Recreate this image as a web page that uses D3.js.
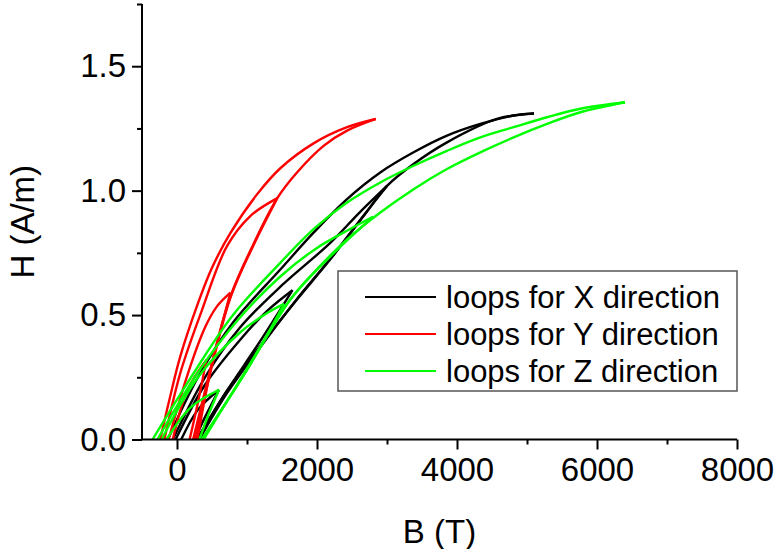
<!DOCTYPE html>
<html>
<head>
<meta charset="utf-8">
<script src="https://cdn.jsdelivr.net/npm/d3@7"></script>
<style>
  html, body { margin: 0; padding: 0; background: #fff; }
  svg { display: block; font-family: "Liberation Sans", Arial, sans-serif; }
</style>
</head>
<body>
<svg id="chart" width="774" height="549"></svg>
<script>
// ---------------- data (B in T, H in A/m) ----------------
const seriesNames = ["loops for X direction", "loops for Y direction", "loops for Z direction"];
const seriesColors = ["#000000", "#ff0000", "#00ff00"];

const xTicksMajor = [0, 2000, 4000, 6000, 8000];
const xTicksMinor = [1000, 3000, 5000, 7000];
const yTicksMajor = [0, 0.5, 1.0, 1.5];
const yTicksMinor = [0.25, 0.75, 1.25, 1.75];

// X direction loops: each loop = upper (ascending) branch + lower (returning) branch
const loopX1Upper = [[-130,0],[300,0.25],[800,0.47],[1476,0.683],[1951,0.831],[2429,0.966],[2904,1.073],[3380,1.154],[3857,1.221],[4333,1.268],[4809,1.302],[5100,1.31]];
const loopX1Lower = [[5100,1.31],[4571,1.288],[3857,1.194],[3380,1.107],[3000,1.019],[2666,0.898],[2190,0.724],[1714,0.5625],[1200,0.38],[700,0.19],[300,0]];
const loopX2Upper = [[-60,0],[400,0.25],[900,0.45],[1500,0.62],[2190,0.79],[2600,0.91],[3000,1.019]];
const loopX2Lower = [[3000,1.019],[2666,0.9],[2190,0.726],[1700,0.56],[1200,0.375],[700,0.18],[320,0]];
const loopX3Upper = [[-20,0],[400,0.22],[900,0.4],[1300,0.52],[1650,0.6]];
const loopX3Lower = [[1650,0.6],[1200,0.4],[700,0.19],[280,0]];
const loopX4Upper = [[60,0],[300,0.12],[600,0.2]];
const loopX4Lower = [[600,0.2],[400,0.09],[250,0]];

// Y direction loops
const loopY1Upper = [[-240,0],[-100,0.17],[47,0.334],[290,0.54],[500,0.69],[764,0.83],[1143,0.985],[1476,1.09],[1951,1.19],[2429,1.255],[2840,1.288]];
const loopY1Lower = [[2840,1.288],[2429,1.241],[2094,1.18],[1714,1.073],[1433,0.97],[1100,0.79],[770,0.58],[520,0.33],[290,0]];
const loopY2Upper = [[-180,0],[50,0.27],[357,0.52],[714,0.777],[1047,0.898],[1433,0.97]];
const loopY2Lower = [[1433,0.97],[1100,0.785],[770,0.575],[520,0.32],[260,0]];
const loopY3Upper = [[-120,0],[150,0.26],[400,0.45],[571,0.535],[763,0.59]];
const loopY3Lower = [[763,0.59],[520,0.33],[230,0]];
const loopY4Upper = [[-60,0],[150,0.2],[420,0.32]];
const loopY4Lower = [[420,0.32],[300,0.15],[180,0]];

// Z direction loops
const loopZ1Upper = [[-350,0],[200,0.25],[800,0.5],[1476,0.71],[1951,0.845],[2429,0.952],[2904,1.033],[3380,1.1],[3857,1.16],[4333,1.214],[4809,1.255],[5286,1.295],[5761,1.329],[6400,1.355]];
const loopZ1Lower = [[380,0],[1000,0.285],[1619,0.5625],[1951,0.67],[2429,0.804],[2904,0.912],[3380,1.006],[3857,1.087],[4333,1.154],[4809,1.214],[5286,1.268],[5761,1.315],[6400,1.355]];
const loopZ2Upper = [[-280,0],[300,0.27],[900,0.49],[1476,0.655],[2000,0.77],[2500,0.85],[2800,0.895]];
const loopZ2Lower = [[2800,0.895],[2429,0.8],[1951,0.668],[1600,0.555],[1000,0.28],[360,0]];
const loopZ3Upper = [[-220,0],[300,0.25],[900,0.43],[1300,0.51],[1530,0.545]];
const loopZ3Lower = [[1530,0.545],[1000,0.28],[350,0]];
const loopZ4Upper = [[-150,0],[200,0.13],[600,0.2]];
const loopZ4Lower = [[600,0.2],[450,0.1],[320,0]];

const loopsX = [loopX1Upper, loopX1Lower, loopX2Upper, loopX2Lower, loopX3Upper, loopX3Lower, loopX4Upper, loopX4Lower];
const loopsY = [loopY1Upper, loopY1Lower, loopY2Upper, loopY2Lower, loopY3Upper, loopY3Lower, loopY4Upper, loopY4Lower];
const loopsZ = [loopZ1Upper, loopZ1Lower, loopZ2Upper, loopZ2Lower, loopZ3Upper, loopZ3Lower, loopZ4Upper, loopZ4Lower];

// ---------------- drawing ----------------
const svg = d3.select("#chart");
const plot = { left: 142, right: 737, top: 4, bottom: 439.5 };

const x = d3.scaleLinear().domain([-500, 8000]).range([plot.left, plot.right]);
const y = d3.scaleLinear().domain([0, 1.75]).range([plot.bottom, plot.top]);

svg.append("defs").append("clipPath").attr("id", "clip")
  .append("rect")
  .attr("x", plot.left).attr("y", plot.top)
  .attr("width", plot.right - plot.left).attr("height", plot.bottom - plot.top);

const line = d3.line()
  .x(d => x(d[0])).y(d => y(d[1]))
  .curve(d3.curveCatmullRom.alpha(0.5));

const g = svg.append("g").attr("clip-path", "url(#clip)");
[loopsX, loopsY, loopsZ].forEach((loops, i) => {
  g.selectAll(null).data(loops).enter().append("path")
    .attr("d", line)
    .attr("fill", "none")
    .attr("stroke", seriesColors[i])
    .attr("stroke-width", 2.4)
    .attr("stroke-linejoin", "round");
});

// axes
const fontSize = 33;
const xAxis = svg.append("g").attr("transform", `translate(0,${plot.bottom})`)
  .call(d3.axisBottom(x).tickValues(xTicksMajor).tickSize(10).tickPadding(8).tickFormat(d3.format("d")));
const xMinor = svg.append("g").attr("transform", `translate(0,${plot.bottom})`)
  .call(d3.axisBottom(x).tickValues(xTicksMinor).tickSize(5).tickFormat(""));
const yAxis = svg.append("g").attr("transform", `translate(${plot.left},0)`)
  .call(d3.axisLeft(y).tickValues(yTicksMajor).tickSize(10).tickPadding(6).tickFormat(d3.format(".1f")));
const yMinor = svg.append("g").attr("transform", `translate(${plot.left},0)`)
  .call(d3.axisLeft(y).tickValues(yTicksMinor).tickSize(5).tickFormat(""));

[xAxis, xMinor, yAxis, yMinor].forEach(a => {
  a.select(".domain").attr("stroke", "#000").attr("stroke-width", 2);
  a.selectAll(".tick line").attr("stroke", "#000").attr("stroke-width", 2);
  a.selectAll(".tick text").attr("font-size", fontSize).attr("fill", "#000")
    .attr("font-family", "Liberation Sans, Arial, sans-serif");
});
xMinor.select(".domain").remove();
yMinor.select(".domain").remove();
xAxis.select(".domain").attr("d", `M${plot.left},0H${plot.right}`);
yAxis.select(".domain").attr("d", `M0,${plot.bottom}V${plot.top}`);

// axis titles
svg.append("text")
  .attr("x", (plot.left + plot.right) / 2)
  .attr("y", 543)
  .attr("text-anchor", "middle")
  .attr("font-size", fontSize)
  .text("B (T)");
svg.append("text")
  .attr("transform", `translate(34,${(plot.top + plot.bottom) / 2}) rotate(-90)`)
  .attr("text-anchor", "middle")
  .attr("font-size", fontSize)
  .text("H (A/m)");

// legend
const legend = svg.append("g");
legend.append("rect")
  .attr("x", 338).attr("y", 271).attr("width", 399).attr("height", 120)
  .attr("fill", "#fff").attr("stroke", "#555").attr("stroke-width", 1.5);
seriesNames.forEach((name, i) => {
  const cy = 297 + i * 37;
  legend.append("line")
    .attr("x1", 365).attr("x2", 436).attr("y1", cy).attr("y2", cy)
    .attr("stroke", seriesColors[i]).attr("stroke-width", 2);
  legend.append("text")
    .attr("x", 446).attr("y", cy + 11)
    .attr("font-size", 31)
    .text(name);
});
</script>
</body>
</html>
